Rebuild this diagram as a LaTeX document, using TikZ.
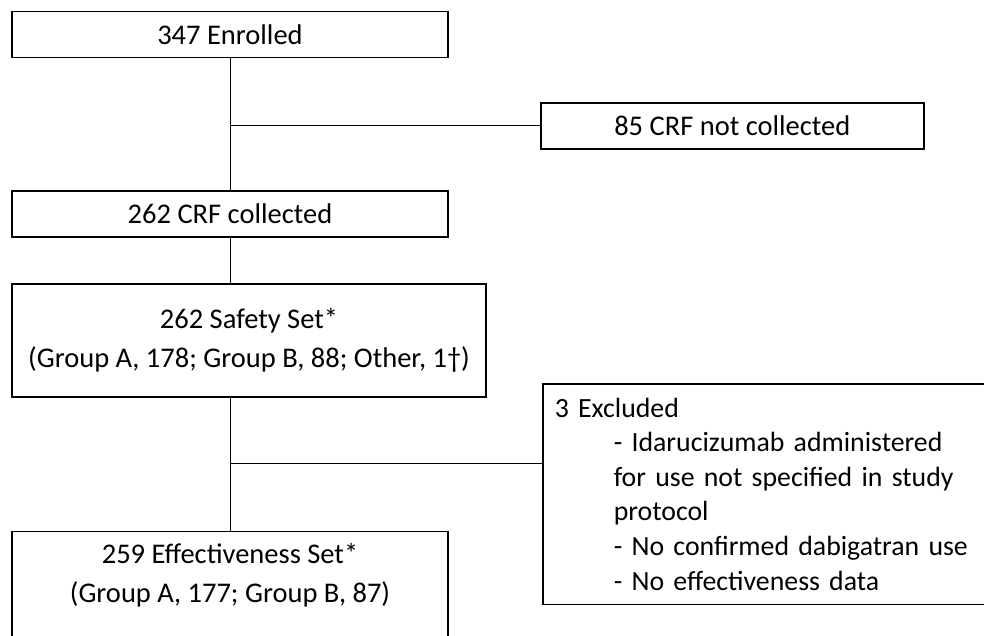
\documentclass[tikz,border=0pt]{standalone}
\usepackage{fontspec}
\setmainfont{Carlito}
\usetikzlibrary{positioning}

\begin{document}
\begin{tikzpicture}[x=1pt, y=-1pt,
		every node/.style={font=\fontsize{28.5}{39.5}\selectfont},
		flowbox/.style={draw, line width=1.6pt, rectangle, align=center, inner sep=0pt, minimum width=436pt, minimum height=46pt},
		sidebox/.style={draw, line width=1.6pt, rectangle, align=left, anchor=north west},
		link/.style={line width=1pt},
		]
		\clip (0,0) rectangle (984,636);
		
		% main column
		\node[flowbox] (enrolled) at (230,34.5) {347 Enrolled};
		\node[flowbox, below=132pt of enrolled] (collected) {262 CRF collected};
		\node[flowbox, minimum width=474pt, minimum height=113pt, below=45pt of collected.south west, anchor=north west] (safety) {262 Safety Set*\\(Group A, 178; Group B, 88; Other, 1†)};
		\node[flowbox, minimum height=0pt, inner ysep=11.5pt, text depth=80pt, below=133pt of safety.south west, anchor=north west] (effective) {259 Effectiveness Set*\\(Group A, 177; Group B, 87)};
		
		% side boxes
		\node[flowbox, minimum width=383pt, anchor=west] (notcollected) at (540,126) {85 CRF not collected};
		\node[sidebox, text width=440pt, inner xsep=12pt, inner ysep=14pt, font=\fontsize{27.8}{34.6}\selectfont] (excluded) at (542,383) {3 Excluded\\
			\hspace*{59pt}- Idarucizumab administered\\
			\hspace*{59pt}for use not specified in study\\
			\hspace*{59pt}protocol\\
			\hspace*{59pt}- No confirmed dabigatran use\\
			\hspace*{59pt}- No effectiveness data};
		
		\coordinate (branch) at (230,463);
		
		\draw[link] (enrolled) -- (collected);
		\draw[link] (enrolled.south |- notcollected.west) -- (notcollected.west);
		\draw[link] (collected.south) -- (collected.south |- safety.north);
		\draw[link] (effective.north |- safety.south) -- (effective.north);
		\draw[link] (branch) -- (branch -| excluded.west);
	\end{tikzpicture}
\end{document}
